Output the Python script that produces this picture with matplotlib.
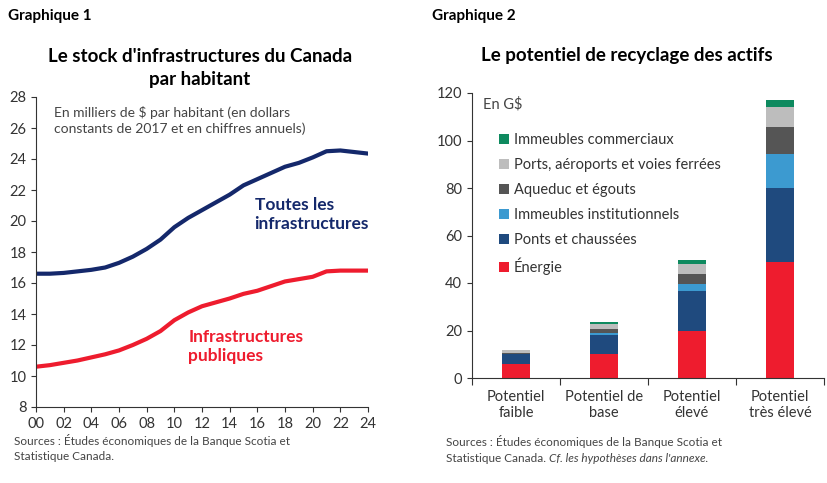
import matplotlib
matplotlib.use("Agg")
import matplotlib.pyplot as plt
import numpy as np

plt.rcParams["font.family"] = ["Lato", "DejaVu Sans"]

years = list(range(2000, 2025))
total = [16.6, 16.6, 16.65, 16.75, 16.85, 17.0, 17.3, 17.7, 18.2, 18.8, 19.6, 20.2, 20.7,
         21.2, 21.7, 22.3, 22.7, 23.1, 23.5, 23.75, 24.1, 24.5, 24.55, 24.45, 24.35]
public = [10.6, 10.7, 10.85, 11.0, 11.2, 11.4, 11.65, 12.0, 12.4, 12.9, 13.6, 14.1, 14.5,
          14.75, 15.0, 15.3, 15.5, 15.8, 16.1, 16.25, 16.4, 16.75, 16.8, 16.8, 16.8]
xlabels = ["00", "02", "04", "06", "08", "10", "12", "14", "16", "18", "20", "22", "24"]

scenarios = ["Potentiel\nfaible", "Potentiel de\nbase", "Potentiel\nélevé", "Potentiel\ntrès élevé"]
series_names = ["Énergie", "Ponts et chaussées", "Immeubles institutionnels",
                "Aqueduc et égouts", "Ports, aéroports et voies ferrées", "Immeubles commerciaux"]
energie = [6, 10, 20, 49]
ponts = [4, 8.3, 16.5, 31]
institution = [0.3, 0.5, 3.2, 14.5]
aqueduc = [0.3, 1.7, 4.3, 11]
ports = [1, 2.3, 4.2, 8.8]
commerciaux = [0.2, 0.8, 1.3, 2.8]
colors = ["#EE1C2E", "#1F4A7E", "#3C9AD0", "#555555", "#BDBDBD", "#0E8A5F"]

NAVY = "#14286B"
RED = "#EE1C2E"

fig = plt.figure(figsize=(8.28, 4.83), dpi=100)

# ---- Graphique 1
fig.text(8 / 828, 1 - 16 / 483, "Graphique 1", fontsize=11, fontweight="bold", va="center")
fig.text(200 / 828, 1 - 56 / 483, "Le stock d'infrastructures du Canada", fontsize=13.5,
         fontweight="bold", ha="center", va="center")
fig.text(200 / 828, 1 - 80 / 483, "par habitant", fontsize=13.5, fontweight="bold", ha="center", va="center")
ax1 = fig.add_axes([36 / 828, 1 - 407 / 483, 332 / 828, 310 / 483])
ax1.plot(years, total, color=NAVY, lw=3)
ax1.plot(years, public, color=RED, lw=3)
ax1.set_xlim(2000, 2024)
ax1.set_ylim(8, 28)
ax1.set_yticks(range(8, 29, 2))
ax1.set_xticks(range(2000, 2025, 2))
ax1.set_xticklabels(xlabels)
ax1.text(2001.3, 27.4, "En milliers de $ par habitant (en dollars\nconstants de 2017 et en chiffres annuels)",
         fontsize=10, color="#444", va="top", linespacing=1.3)
ax1.text(2015.8, 20.4, "Toutes les\ninfrastructures", color=NAVY, fontsize=12.5, fontweight="bold",
         va="center", linespacing=1.2)
ax1.text(2011.0, 11.9, "Infrastructures\npubliques", color=RED, fontsize=12.5, fontweight="bold",
         va="center", linespacing=1.2)
ax1.spines[["top", "right"]].set_visible(False)
fig.text(14 / 828, 1 - 448 / 483, "Sources : Études économiques de la Banque Scotia et\nStatistique Canada.",
         fontsize=8.5, color="#444", va="center", linespacing=1.4)

# ---- Graphique 2
fig.text(432 / 828, 1 - 16 / 483, "Graphique 2", fontsize=11, fontweight="bold", va="center")
fig.text(627 / 828, 1 - 56 / 483, "Le potentiel de recyclage des actifs", fontsize=13.5,
         fontweight="bold", ha="center", va="center")
ax2 = fig.add_axes([472 / 828, 1 - 378 / 483, 352 / 828, 285 / 483])
x = np.arange(len(scenarios))
bottom = np.zeros(len(scenarios))
handles = []
for name, vals, c in zip(series_names, [energie, ponts, institution, aqueduc, ports, commerciaux], colors):
    h = ax2.bar(x, vals, bottom=bottom, width=0.32, color=c, label=name)
    handles.append(h)
    bottom += np.array(vals)
ax2.set_xlim(-0.5, 3.5)
ax2.set_ylim(0, 120)
ax2.set_yticks(range(0, 121, 20))
ax2.set_xticks([-0.5, 0.5, 1.5, 2.5, 3.5])
ax2.set_xticklabels([])
ax2.tick_params(axis="x", length=5)
for xi, lab in zip(x, scenarios):
    ax2.text(xi, -5, lab, ha="center", va="top", fontsize=10.5, color="#333", linespacing=1.2)
ax2.text(0.03, 0.985, "En G$", transform=ax2.transAxes, fontsize=10.5, color="#444", va="top")
leg = ax2.legend(handles[::-1], series_names[::-1], loc="upper left", bbox_to_anchor=(0.06, 0.88),
                 frameon=False, fontsize=10.5, handlelength=0.7, handleheight=0.7, handletextpad=0.3,
                 labelspacing=0.75, borderaxespad=0)
for t in leg.get_texts():
    t.set_color("#333")
ax2.spines[["top", "right"]].set_visible(False)
fig.text(446 / 828, 1 - 442 / 483, "Sources : Études économiques de la Banque Scotia et",
         fontsize=8.5, color="#444", va="center")
t1 = fig.text(446 / 828, 1 - 459 / 483, "Statistique Canada. ", fontsize=8.5, color="#444", va="center")
fig.canvas.draw()
bb = t1.get_window_extent()
fig.text(bb.x1 / fig.bbox.width, 1 - 459 / 483, "Cf. les hypothèses dans l'annexe.",
         fontsize=8.5, color="#444", va="center", fontstyle="italic")

for a in [ax1, ax2]:
    a.tick_params(labelsize=10.5, colors="#333", direction="out")
    for s in ["left", "bottom"]:
        a.spines[s].set_color("#333")

fig.savefig("out.png", dpi=100, facecolor="white")
